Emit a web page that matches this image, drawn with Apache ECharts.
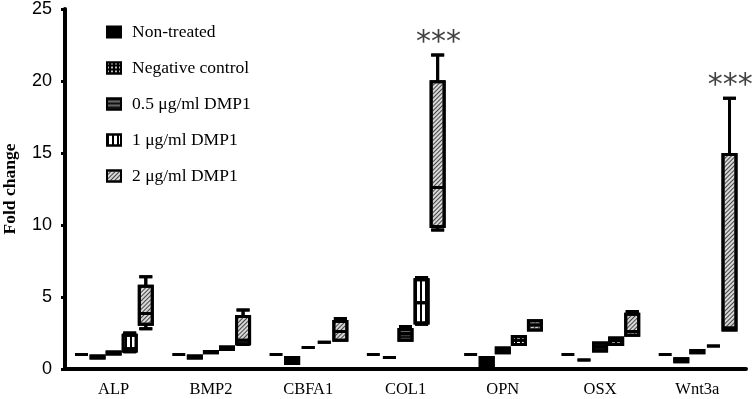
<!DOCTYPE html>
<html>
<head>
<meta charset="utf-8">
<script src="https://cdn.jsdelivr.net/npm/echarts@6/dist/echarts.min.js"></script>
<style>
html,body{margin:0;padding:0;background:#fff;}
#main{width:754px;height:399px;}
</style>
</head>
<body>
<div id="main"></div>
<script>
// genes on the x axis
var genes = ['ALP', 'BMP2', 'CBFA1', 'COL1', 'OPN', 'OSX', 'Wnt3a'];
var yTicks = [0, 5, 10, 15, 20, 25];

// [min, Q1, median, Q3, max] per gene
var nonTreated = [
    [1, 1, 1, 1, 1], [1, 1, 1, 1, 1], [1, 1, 1, 1, 1], [1, 1, 1, 1, 1],
    [1, 1, 1, 1, 1], [1, 1, 1, 1, 1], [1, 1, 1, 1, 1]
];
var negControl = [
    [0.77, 0.77, 0.83, 0.9, 0.9],
    [0.77, 0.77, 0.83, 0.9, 0.9],
    [0.38, 0.38, 0.55, 0.8, 0.8],
    [0.8, 0.8, 0.8, 0.8, 0.8],
    [0.25, 0.25, 0.55, 0.8, 0.8],
    [0.62, 0.62, 0.62, 0.62, 0.62],
    [0.5, 0.5, 0.6, 0.72, 0.72]
];
var dmp05 = [
    [1.05, 1.05, 1.1, 1.18, 1.18],
    [1.12, 1.12, 1.17, 1.22, 1.22],
    [1.5, 1.5, 1.5, 1.5, 1.5],
    [2.0, 2.0, 2.45, 2.75, 2.95],
    [1.12, 1.12, 1.3, 1.45, 1.45],
    [1.25, 1.25, 1.55, 1.8, 1.8],
    [1.12, 1.12, 1.2, 1.28, 1.28]
];
var dmp1 = [
    [1.2, 1.25, 1.4, 2.35, 2.5],
    [1.35, 1.35, 1.45, 1.52, 1.52],
    [1.85, 1.85, 1.85, 1.85, 1.85],
    [3.1, 3.2, 4.6, 6.2, 6.35],
    [1.7, 1.7, 2.0, 2.25, 2.25],
    [1.7, 1.7, 1.97, 2.15, 2.15],
    [1.6, 1.6, 1.6, 1.6, 1.6]
];
var dmp2 = [
    [2.8, 3.1, 3.85, 5.75, 6.4],
    [1.7, 1.75, 2.0, 3.65, 4.1],
    [2.0, 2.0, 2.6, 3.3, 3.5],
    [9.65, 9.9, 12.6, 19.95, 21.8],
    [2.7, 2.7, 3.05, 3.35, 3.35],
    [2.35, 2.35, 2.6, 3.8, 4.0],
    [2.7, 2.7, 2.85, 14.9, 18.8]
];
// significance marks above the 2 µg/ml boxes
var starMarks = [['COL1', 21.8], ['Wnt3a', 18.8]];

var names = ['Non-treated', 'Negative control', '0.5 μg/ml DMP1', '1 μg/ml DMP1', '2 μg/ml DMP1'];

// fill + pattern for each group
var fills = ['#000', '#000', '#666', '#fff', '#d8d8d8'];
var decals = [
    null,
    { symbol: 'circle', symbolSize: 1, color: '#fff', dashArrayX: [2, 2], dashArrayY: [2, 2] },
    { symbol: 'rect', color: '#111', dashArrayX: [1, 0], dashArrayY: [1.5, 1.5] },
    { symbol: 'rect', color: '#000', dashArrayX: [1.5, 3], dashArrayY: [4, 0] },
    { symbol: 'rect', color: '#444', dashArrayX: [1, 0], dashArrayY: [1, 2], rotation: -Math.PI / 4 }
];

var myChart = echarts.init(document.getElementById('main'));

function styleFor(i, bw) {
    var st = { color: fills[i], borderColor: '#000', borderWidth: bw };
    if (decals[i]) st.decal = decals[i];
    return st;
}

function boxSeries(i, data) {
    return {
        name: names[i],
        type: 'boxplot',
        data: data,
        boxWidth: [13, 13],
        itemStyle: styleFor(i, 3)
    };
}

var legendData = names.map(function (n, i) {
    return { name: n, itemStyle: styleFor(i, 2) };
});

var option = {
    animation: false,
    backgroundColor: '#fff',
    grid: {
        left: 65,
        right: 8,
        top: 9,
        bottom: 30,
        containLabel: false,
        outerBoundsMode: 'none'
    },
    legend: {
        data: legendData,
        orient: 'vertical',
        left: 106,
        top: 23,
        padding: 0,
        itemGap: 18,
        itemWidth: 14,
        itemHeight: 11,
        icon: 'rect',
        textStyle: {
            fontFamily: 'Liberation Serif',
            fontSize: 17.5,
            color: '#000',
            padding: [0, 0, 0, 6]
        }
    },
    xAxis: {
        type: 'category',
        data: genes,
        axisLine: {
            lineStyle: { color: '#000', width: 4 }
        },
        axisTick: {
            alignWithLabel: true,
            length: 4,
            lineStyle: { color: '#000', width: 4 }
        },
        axisLabel: {
            fontFamily: 'Liberation Serif',
            fontSize: 16.5,
            color: '#000',
            margin: 12
        },
        splitLine: { show: false }
    },
    yAxis: {
        type: 'value',
        min: yTicks[0],
        max: yTicks[yTicks.length - 1],
        interval: 5,
        name: 'Fold change',
        nameLocation: 'middle',
        nameGap: 46,
        nameTextStyle: {
            fontFamily: 'Liberation Serif',
            fontWeight: 'bold',
            fontSize: 17.5,
            color: '#000'
        },
        axisLine: {
            show: true,
            lineStyle: { color: '#000', width: 4 }
        },
        axisTick: {
            show: true,
            length: 4,
            lineStyle: { color: '#000', width: 3 }
        },
        axisLabel: {
            fontFamily: 'Liberation Sans',
            fontSize: 18,
            color: '#000',
            margin: 13
        },
        splitLine: { show: false }
    },
    series: [
        boxSeries(0, nonTreated),
        boxSeries(1, negControl),
        boxSeries(2, dmp05),
        boxSeries(3, dmp1),
        boxSeries(4, dmp2),
        {
            type: 'scatter',
            data: starMarks,
            symbolSize: 0,
            silent: true,
            label: {
                show: true,
                position: 'top',
                distance: 6,
                offset: [33, 9],
                formatter: '***',
                fontFamily: 'DejaVu Sans',
                fontSize: 30,
                color: '#111'
            }
        }
    ]
};
myChart.setOption(option);
</script>
</body>
</html>
